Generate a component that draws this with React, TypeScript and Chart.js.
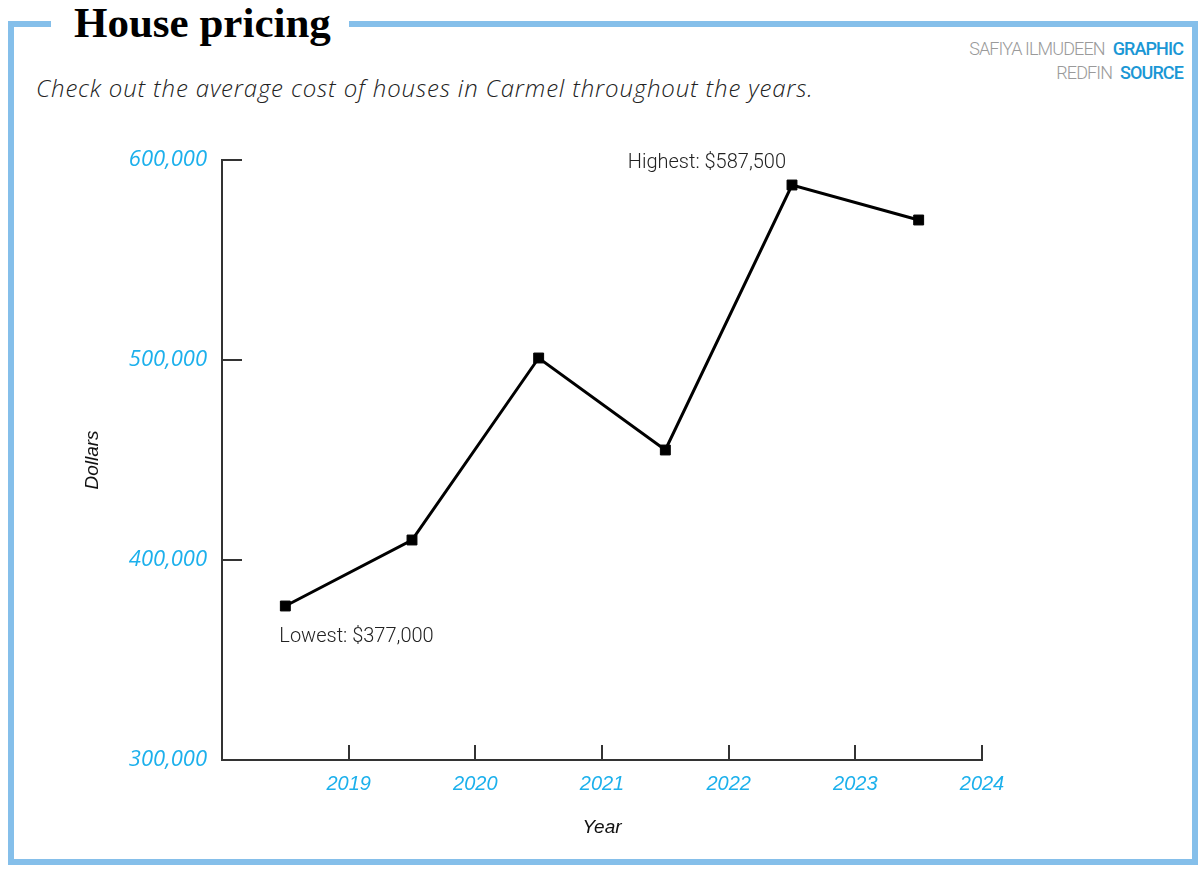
import React, { useEffect, useRef } from "react";
import { Chart, registerables } from "chart.js";

Chart.register(...registerables);

const years = [2018, 2019, 2020, 2021, 2022, 2023];
const prices = [377000, 410000, 501000, 455000, 587500, 570000];
const xTickYears = [2019, 2020, 2021, 2022, 2023, 2024];
const yTickValues = [300000, 400000, 500000, 600000];
const lowLabel = "Lowest: $377,000";
const highLabel = "Highest: $587,500";

const AXIS_COLOR = "#333333";
const TICK_BLUE = "#1cb0ec";

const axisPlugin = {
  id: "customAxes",
  beforeDatasetsDraw(chart: any) {
    const { ctx, scales } = chart;
    const x = scales.x;
    const y = scales.y;
    const left = chart.chartArea.left;
    const bottom = chart.chartArea.bottom;
    ctx.save();
    ctx.strokeStyle = AXIS_COLOR;
    ctx.lineWidth = 2;
    ctx.lineCap = "butt";
    yTickValues.forEach((v) => {
      if (v === 300000) return;
      const py = Math.round(y.getPixelForValue(v));
      ctx.beginPath();
      ctx.moveTo(left, py);
      ctx.lineTo(left + 20, py);
      ctx.stroke();
    });
    xTickYears.forEach((v) => {
      const px = Math.round(x.getPixelForValue(v));
      ctx.beginPath();
      ctx.moveTo(px, bottom);
      ctx.lineTo(px, bottom - 15);
      ctx.stroke();
    });
    ctx.restore();
  },
  afterDatasetsDraw(chart: any) {
    const { ctx } = chart;
    const meta = chart.getDatasetMeta(0);
    let minI = 0;
    let maxI = 0;
    prices.forEach((p, i) => {
      if (p < prices[minI]) minI = i;
      if (p > prices[maxI]) maxI = i;
    });
    const lo = meta.data[minI];
    const hi = meta.data[maxI];
    ctx.save();
    ctx.fillStyle = "#222";
    ctx.font = "300 20px Roboto";
    ctx.textBaseline = "middle";
    ctx.textAlign = "left";
    ctx.fillText(lowLabel, lo.x - 6, lo.y + 31);
    ctx.textAlign = "right";
    ctx.fillText(highLabel, hi.x - 6, hi.y - 22);
    ctx.restore();
  },
};

export default function App() {
  const canvasRef = useRef<HTMLCanvasElement>(null);

  useEffect(() => {
    if (!canvasRef.current) return;
    const chart = new Chart(canvasRef.current, {
      type: "line",
      data: {
        datasets: [
          {
            data: years.map((yr, i) => ({ x: yr + 0.5, y: prices[i] })),
            borderColor: "#000",
            borderWidth: 3,
            pointStyle: "rect",
            pointRadius: 7,
            pointBackgroundColor: "#000",
            pointBorderColor: "#000",
            pointBorderWidth: 1,
            tension: 0,
            clip: false,
          } as any,
        ],
      },
      options: {
        responsive: false,
        animation: false,
        layout: { padding: { top: 160, right: 218, bottom: 0, left: 0 } },
        plugins: { legend: { display: false }, tooltip: { enabled: false } },
        scales: {
          x: {
            type: "linear",
            min: 2018,
            max: 2024,
            afterFit: (s: any) => {
              s.height = 116;
            },
            afterBuildTicks: (s: any) => {
              s.ticks = [2018, ...xTickYears].map((v) => ({ value: v }));
            },
            grid: { display: false, drawTicks: false },
            border: { display: true, color: AXIS_COLOR, width: 2 },
            ticks: {
              padding: 12,
              color: TICK_BLUE,
              font: { family: "'Liberation Sans', Arial", size: 20, style: "italic" },
              callback: (v: any) => (xTickYears.includes(v) ? String(v) : ""),
              maxRotation: 0,
              autoSkip: false,
            },
            title: {
              display: true,
              text: "Year",
              color: "#111",
              font: { family: "'Liberation Sans', Arial", size: 19, style: "italic" },
              padding: { top: 0, bottom: 37 },
            },
          },
          y: {
            type: "linear",
            min: 300000,
            max: 600000,
            afterFit: (s: any) => {
              s.width = 222;
            },
            afterBuildTicks: (s: any) => {
              s.ticks = yTickValues.map((v) => ({ value: v }));
            },
            grid: { display: false, drawTicks: false },
            border: { display: true, color: AXIS_COLOR, width: 2 },
            ticks: {
              padding: 15,
              color: TICK_BLUE,
              font: { family: "'Open Sans'", size: 22, style: "italic" },
              callback: (v: any) => Number(v).toLocaleString("en-US"),
            },
            title: {
              display: true,
              text: "Dollars",
              color: "#111",
              font: { family: "'Liberation Sans', Arial", size: 19, style: "italic" },
              padding: { top: 81, bottom: 0 },
            },
          },
        },
      },
      plugins: [axisPlugin],
    });
    return () => chart.destroy();
  }, []);

  return (
    <div style={{ position: "absolute", left: 0, top: 0, width: 1200, height: 876, background: "#fff", overflow: "hidden" }}>
      <div
        style={{
          position: "absolute",
          left: 8,
          top: 21,
          width: 1178,
          height: 832,
          border: "6px solid #85bfea",
        }}
      />
      <div
        style={{
          position: "absolute",
          left: 51,
          top: 0,
          width: 298,
          height: 50,
          background: "#fff",
        }}
      />
      <div
        style={{
          position: "absolute",
          left: 74,
          top: -1,
          fontFamily: "'Liberation Serif', serif",
          fontWeight: 700,
          fontSize: 43,
          lineHeight: "48px",
          color: "#000",
          whiteSpace: "nowrap",
        }}
      >
        House pricing
      </div>
      <div
        style={{
          position: "absolute",
          left: 36,
          top: 71,
          fontFamily: "'Open Sans', sans-serif",
          fontStyle: "italic",
          fontWeight: 300,
          fontSize: 24,
          lineHeight: "34px",
          letterSpacing: "0.85px",
          color: "#222",
          whiteSpace: "nowrap",
        }}
      >
        Check out the average cost of houses in Carmel throughout the years.
      </div>
      <div
        style={{
          position: "absolute",
          right: 17,
          top: 37,
          textAlign: "right",
          fontFamily: "Roboto, sans-serif",
          fontSize: 18,
          lineHeight: "24px",
          letterSpacing: "-0.9px",
          whiteSpace: "nowrap",
        }}
      >
        <div>
          <span style={{ color: "#9a9a9a", fontWeight: 300 }}>SAFIYA ILMUDEEN</span>
          <span style={{ color: "#1a97d5", fontWeight: 500, marginLeft: 8 }}>GRAPHIC</span>
        </div>
        <div>
          <span style={{ color: "#9a9a9a", fontWeight: 300 }}>REDFIN</span>
          <span style={{ color: "#1a97d5", fontWeight: 500, marginLeft: 8 }}>SOURCE</span>
        </div>
      </div>
      <canvas
        ref={canvasRef}
        width={1200}
        height={876}
        style={{ position: "absolute", left: 0, top: 0, width: 1200, height: 876 }}
      />
    </div>
  );
}
